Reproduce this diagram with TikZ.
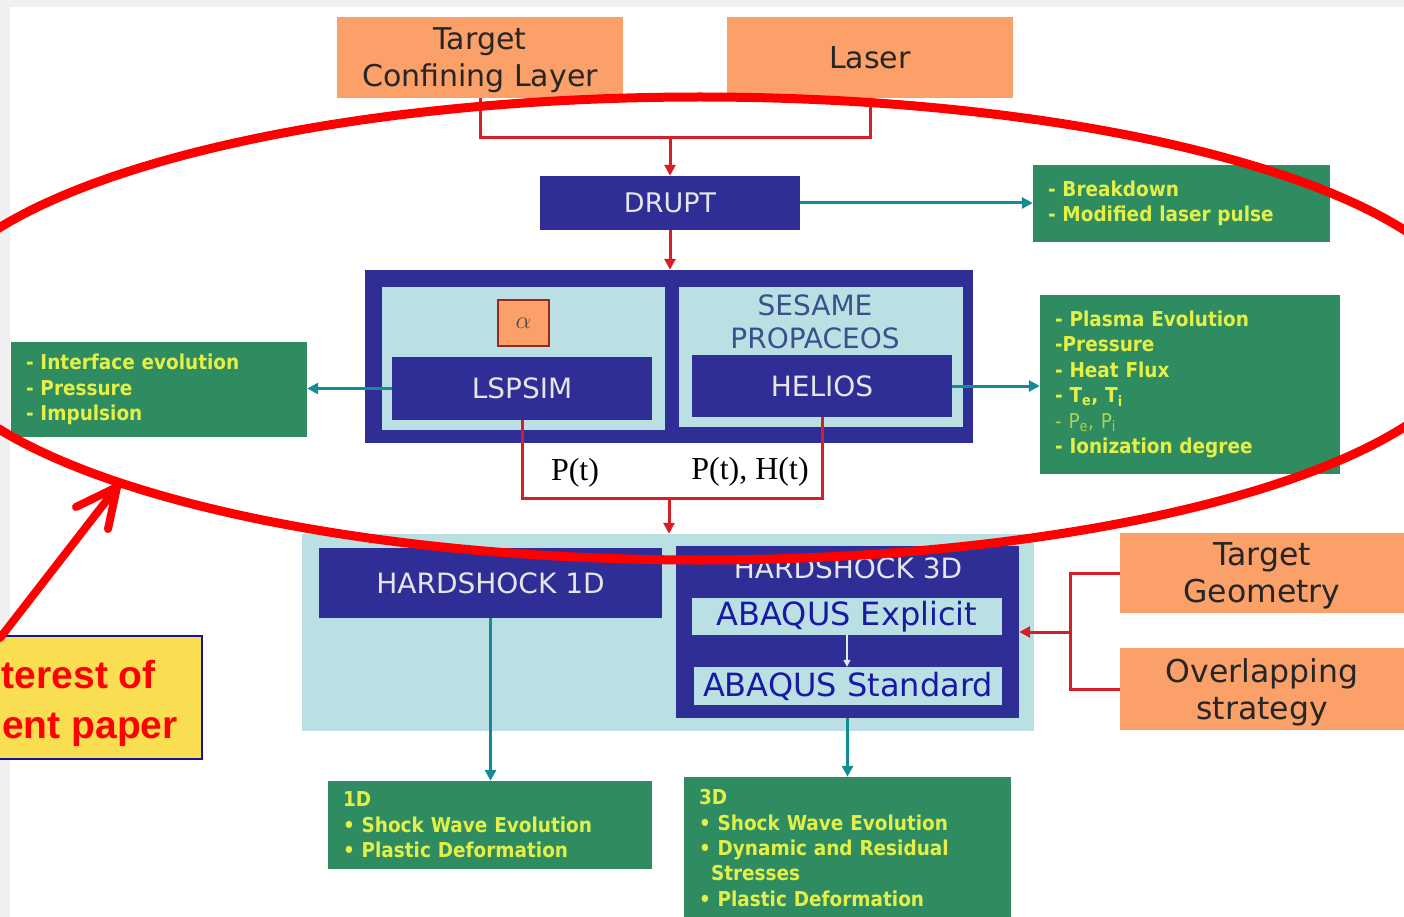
\documentclass[tikz,border=0pt]{standalone}
\usepackage{fontspec}
\setmainfont{DejaVu Sans}
\newfontfamily\serifp{Liberation Serif}
\newfontfamily\arialf{Liberation Sans}
\newfontfamily\gfont{DejaVu Sans}[FakeStretch=0.9]
\usetikzlibrary{arrows.meta,shapes.geometric}
\definecolor{dblue}{RGB}{46,46,150}
\definecolor{lcyan}{RGB}{186,224,228}
\definecolor{orng}{RGB}{250,160,104}
\definecolor{grn}{RGB}{46,140,96}
\definecolor{ylw}{RGB}{228,240,72}
\definecolor{redl}{RGB}{215,30,40}
\definecolor{tealc}{RGB}{20,140,150}
\definecolor{hred}{RGB}{255,0,0}
\definecolor{ybox}{RGB}{250,222,82}
\definecolor{nblue}{RGB}{20,20,150}
\definecolor{abq}{RGB}{25,25,165}
\definecolor{sesc}{RGB}{60,80,140}
\definecolor{alred}{RGB}{150,40,30}
\tikzset{
  obox/.style={fill=orng, text=black!85, inner sep=0pt, align=center, font=\fontsize{30}{37}\selectfont},
  bbox/.style={fill=dblue, text=white!90!black, inner sep=0pt, font=\fontsize{28}{34}\selectfont},
  panel/.style={fill=lcyan, inner sep=0pt},
  abox/.style={fill=lcyan, text=abq, inner sep=0pt, font=\fontsize{32}{38}\selectfont},
  gbox/.style={fill=grn, text=ylw, inner xsep=15pt, inner ysep=0pt, align=left, font=\gfont\bfseries\fontsize{20.5}{25.4}\selectfont},
  redline/.style={draw=redl, line width=3pt},
  redarrow/.style={redline, -{Triangle[length=11pt,width=11pt]}},
  tealarrow/.style={draw=tealc, line width=3pt, -{Triangle[length=11pt,width=11pt]}},
  plabel/.style={font=\serifp\fontsize{32}{38}\selectfont, inner sep=0pt},
}
\begin{document}
\begin{tikzpicture}[x=1pt,y=-1pt]
\useasboundingbox (0,0) rectangle (1404,917);
\fill[white] (0,0) rectangle (1404,917);
\fill[black!6] (0,0) rectangle (1404,7);
\fill[black!6] (0,0) rectangle (10,917);

% top inputs
\node[obox, text depth=0pt, minimum width=286pt, minimum height=81pt] (tcl) at (480,57.5) {Target\\Confining Layer};
\node[obox, minimum width=286pt, minimum height=81pt] (laser) at (870,57.5) {Laser};
\coordinate (j1) at (670,138);
\node[bbox, minimum width=260pt, minimum height=54pt, font=\fontsize{27}{32}\selectfont] (drupt) at (670,203) {DRUPT};
\node[gbox, text width=267pt, minimum height=77pt] (brk) at (1181.5,203.5) {- Breakdown\\- Modified laser pulse};

% middle block
\node[fill=dblue, inner sep=0pt, minimum width=608pt, minimum height=173pt] (big) at (669,356.5) {};
\node[panel, minimum width=283pt, minimum height=143pt] (lpanel) at (523.5,358.5) {};
\node[panel, minimum width=284pt, minimum height=140pt] (rpanel) at (821,357) {};
\node[fill=orng, draw=alred, line width=2pt, inner sep=0pt, minimum width=51pt, minimum height=46pt, text=black!70, font=\fontsize{28}{30}\selectfont] (alpha) at (523.5,323) {$\alpha$};
\node[bbox, minimum width=260pt, minimum height=63pt] (lspsim) at (522,388.5) {LSPSIM};
\node[text=sesc, align=center, inner sep=0pt, font=\fontsize{28}{33}\selectfont] (sesame) at (815,322) {SESAME\\PROPACEOS};
\node[bbox, minimum width=260pt, minimum height=62pt] (helios) at (822,386) {HELIOS};
\node[gbox, text width=266pt, minimum height=95pt] (leftg) at (159,389.5) {- Interface evolution\\- Pressure\\- Impulsion};
\node[gbox, text width=270pt, minimum height=179pt] (rightg) at (1190,384.5) {- Plasma Evolution\\-Pressure\\- Heat Flux\\- T\textsubscript{e}, T\textsubscript{i}\\{\mdseries\color{ylw!70!grn}- P\textsubscript{e}, P\textsubscript{i}}\\- Ionization degree};
\coordinate (j2) at (669,498);
\node[plabel] (pt1) at (575,473) {P(t)};
\node[plabel] (pt2) at (750,472) {P(t), H(t)};

% lower block
\node[panel, minimum width=732pt, minimum height=197pt] (low) at (668,632.5) {};
\node[bbox, minimum width=343pt, minimum height=70pt] (hs1d) at (490.5,583) {HARDSHOCK 1D};
\node[fill=dblue, inner sep=0pt, minimum width=343pt, minimum height=172pt] (hs3d) at (847.5,632) {};
\node[anchor=base, inner sep=0pt, text=white!90!black, font=\fontsize{28}{34}\selectfont] (hs3dl) at (848,578) {HARDSHOCK 3D};
\node[abox, minimum width=310pt, minimum height=37pt] (abex) at (847,616.5) {ABAQUS Explicit};
\node[abox, minimum width=308pt, minimum height=38pt] (abst) at (848,686) {ABAQUS Standard};
\node[obox, text depth=0pt, minimum width=284pt, minimum height=80pt, font=\fontsize{31.5}{37}\selectfont] (tg) at (1262,573) {Target\\Geometry};
\node[obox, text depth=0pt, minimum width=284pt, minimum height=82pt, font=\fontsize{31.5}{37}\selectfont] (ov) at (1262,689) {Overlapping\\strategy};
\coordinate (j3) at (1070,632);
\node[gbox, text width=294pt, minimum height=88pt, font=\gfont\bfseries\fontsize{20.5}{25.4}\selectfont] (d1) at (490,825) {1D\\• Shock Wave Evolution\\• Plastic Deformation};
\node[gbox, text width=297pt, minimum height=142pt, font=\gfont\bfseries\fontsize{20.5}{25.4}\selectfont] (d3) at (847.5,848) {3D\\• Shock Wave Evolution\\• Dynamic and Residual\\\hspace*{12pt}Stresses\\• Plastic Deformation};

% connectors
\draw[redline] (tcl.south) -- (tcl.south |- j1) -- (laser.south |- j1) -- (laser.south);
\draw[redarrow] (j1) -- (drupt.north);
\draw[tealarrow] (drupt.east) -- (brk.west |- drupt.east);
\draw[redarrow] (drupt.south) -- (big.north -| drupt.south);
\draw[tealarrow] (lspsim.west) -- (leftg.east |- lspsim.west);
\draw[tealarrow] (helios.east) -- (rightg.west |- helios.east);
\draw[redline] (lspsim.south) -- (lspsim.south |- j2) -- (helios.south |- j2) -- (helios.south);
\draw[redarrow] (j2) -- (low.north -| j2);
\draw[draw=lcyan!60!white, line width=1.5pt, -{Triangle[length=7pt,width=7pt]}] (abex.south) -- (abst.north -| abex.south);
\draw[redline] (tg.west) -- (tg.west -| j3) -- (ov.west -| j3) -- (ov.west);
\draw[redarrow] (j3) -- (hs3d.east);
\draw[tealarrow] (hs1d.south) -- (d1.north -| hs1d.south);
\draw[tealarrow] (hs3d.south) -- (d3.north -| hs3d.south);

% region of interest
\node[draw=hred, line width=9pt, ellipse, inner sep=0pt, minimum width=1556pt, minimum height=463pt] (roi) at (700,328.5) {};
\node[fill=ybox, draw=nblue, line width=2pt, inner sep=0pt, minimum width=262pt, minimum height=123pt] (yb) at (71,697.5) {};
\node[anchor=base east, inner sep=0pt, text=hred, font=\arialf\bfseries\fontsize{39}{46}\selectfont] (yt1) at (156,688) {terest of};
\node[anchor=base east, inner sep=0pt, text=hred, font=\arialf\bfseries\fontsize{39}{46}\selectfont] (yt2) at (178,738) {ent paper};
\coordinate (astart) at (0,638);
\coordinate (tip) at (117,487);
\draw[hred, line width=8pt, line cap=round] (astart) -- (tip);
\draw[hred, line width=8pt, line cap=round] (tip) -- ++(-41,20);
\draw[hred, line width=8pt, line cap=round] (tip) -- ++(-9,42);
\end{tikzpicture}
\end{document}
